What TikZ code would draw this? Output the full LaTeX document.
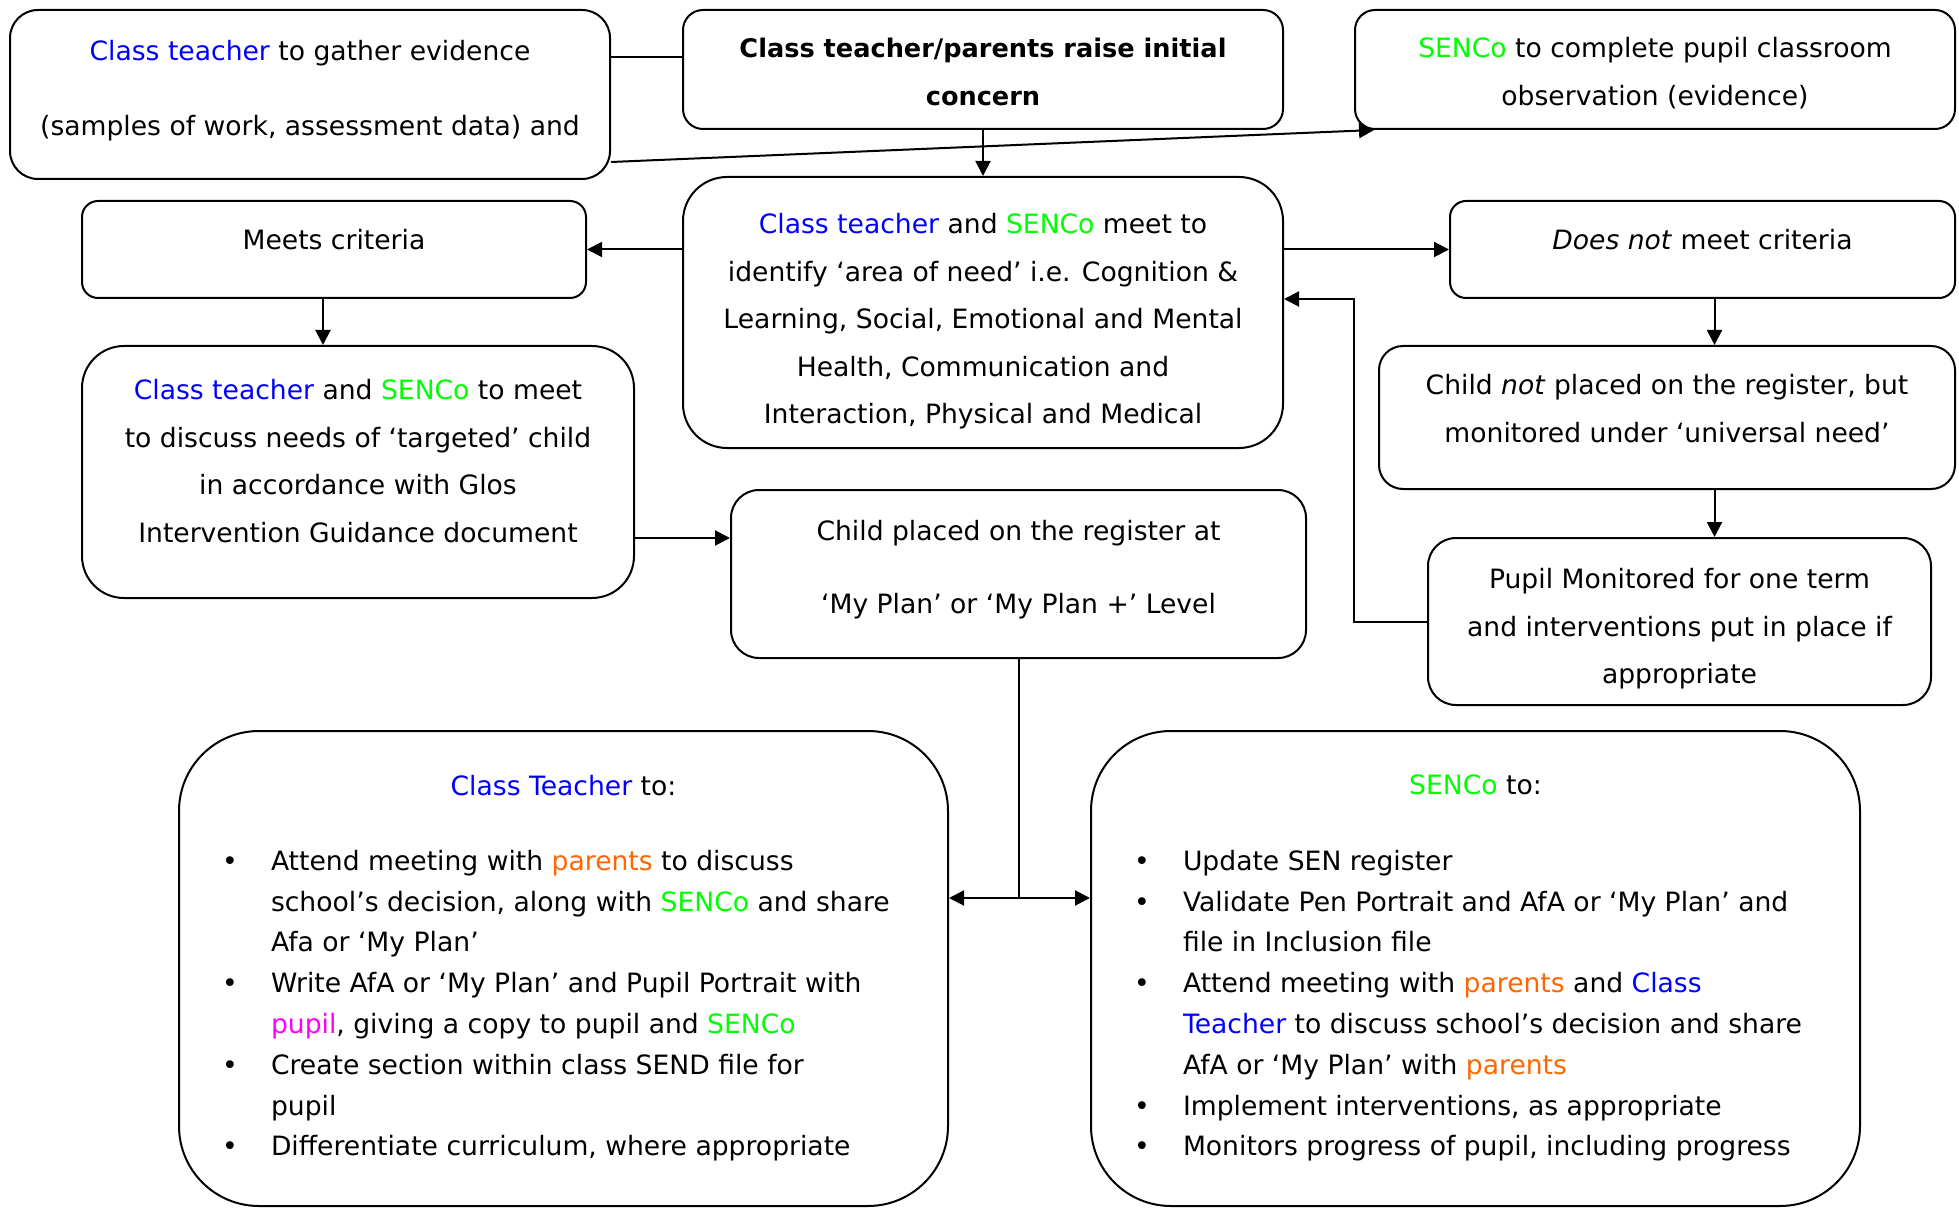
\documentclass[tikz,border=0pt]{standalone}
\usepackage{fontspec}
\setmainfont{DejaVu Sans}
\usetikzlibrary{positioning,arrows.meta}

\definecolor{teacherblue}{RGB}{0,0,255}
\definecolor{sencogreen}{RGB}{0,255,0}
\definecolor{parentorange}{RGB}{255,102,0}
\definecolor{pupilpink}{RGB}{255,0,255}

\begin{document}
\begin{tikzpicture}[
            x=0.5pt, y=-0.5pt,
            line width=1pt,
            >={Triangle[length=7.5pt,width=7.5pt]},
            box/.style={draw, rounded corners=#1, align=center, inner sep=0pt,
                font=\fontsize{13.3}{23.75}\selectfont},
            box/.default=12pt,
            listtext/.style={inner sep=0pt, font=\fontsize{13.3}{20.4}\selectfont}
        ]
            \useasboundingbox (0,0) rectangle (1959,1208);

            % top row
            \node[box=14pt, minimum width=300pt, minimum height=84.5pt] (evidence) at (310,94.5)
                {\textcolor{teacherblue}{Class teacher} to gather evidence\\[13.75pt](samples of work, assessment data) and\rule[-6.9pt]{0pt}{0pt}};
            \node[box=10pt, minimum width=300pt, minimum height=59.5pt,
                font=\fontsize{12.8}{23.75}\selectfont\bfseries] (concern) at (983,69.5)
                {\rule{0pt}{12.3pt}Class teacher/parents raise initial\\concern};
            \node[box=10pt, minimum width=300pt, minimum height=59.5pt] (observe) at (1655,69.5)
                {\rule{0pt}{13.9pt}\textcolor{sencogreen}{SENCo} to complete pupil classroom\\observation (evidence)};

            % middle
            \node[box=22pt, minimum width=300pt, minimum height=135.5pt] (need) at (983,312.5)
                {\rule{0pt}{18.9pt}\textcolor{teacherblue}{Class teacher} and \textcolor{sencogreen}{SENCo} meet to\\identify ‘area of need’ i.e. Cognition \&\\Learning, Social, Emotional and Mental\\Health, Communication and\\Interaction, Physical and Medical};
            \node[box=8pt, minimum width=252pt, minimum height=48.5pt] (meets) at (334,249.5)
                {Meets criteria\rule[-10pt]{0pt}{0pt}};
            \node[box=8pt, minimum width=252.5pt, minimum height=48.5pt] (notmeets) at (1702.5,249.5)
                {\textit{Does not} meet criteria\rule[-10pt]{0pt}{0pt}};
            \node[box=21pt, minimum width=276pt, minimum height=126pt] (targeted) at (358,472)
                {\textcolor{teacherblue}{Class teacher} and \textcolor{sencogreen}{SENCo} to meet\\to discuss needs of ‘targeted’ child\\in accordance with Glos\\Intervention Guidance document\rule[-11pt]{0pt}{0pt}};
            \node[box=12pt, minimum width=288pt, minimum height=71.5pt] (universal) at (1667,417.5)
                {Child \textit{not} placed on the register, but\\monitored under ‘universal need’\rule[-9pt]{0pt}{0pt}};
            \node[box=14pt, minimum width=251.5pt, minimum height=83.5pt] (monitor) at (1679.5,621.5)
                {\rule{0pt}{17.6pt}Pupil Monitored for one term\\and interventions put in place if\\appropriate};
            \node[box=14pt, minimum width=287.5pt, minimum height=84pt] (register) at (1018.5,574)
                {Child placed on the register at\\[12.75pt]‘My Plan’ or ‘My Plan +’ Level\rule[-6.9pt]{0pt}{0pt}};

            % bottom boxes
            \node[box=40pt, minimum width=384.5pt, minimum height=237.5pt] (teacherbox) at (563.5,968.5) {};
            \node[box=40pt, minimum width=384.5pt, minimum height=237.5pt] (sencobox) at (1475.5,968.5) {};

            \node[listtext, below=22pt of teacherbox.north] (teacherhead) {\textcolor{teacherblue}{Class Teacher} to:};
            \node[listtext, below right=55.4pt and 21.5pt of teacherbox.north west] (teacherlist) {%
                \begin{tabular}{@{}p{24.5pt}@{}l@{}}
                    \textbullet & Attend meeting with \textcolor{parentorange}{parents} to discuss\\
                    & school’s decision, along with \textcolor{sencogreen}{SENCo} and share\\
                    & Afa or ‘My Plan’\\
                    \textbullet & Write AfA or ‘My Plan’ and Pupil Portrait with\\
                    & \textcolor{pupilpink}{pupil}, giving a copy to pupil and \textcolor{sencogreen}{SENCo}\\
                    \textbullet & Create section within class SEND file for\\
                    & pupil\\
                    \textbullet & Differentiate curriculum, where appropriate
                \end{tabular}};

            \node[listtext, below=22pt of sencobox.north] (sencohead) {\textcolor{sencogreen}{SENCo} to:};
            \node[listtext, below right=55.4pt and 21.5pt of sencobox.north west] (sencolist) {%
                \begin{tabular}{@{}p{24.5pt}@{}l@{}}
                    \textbullet & Update SEN register\\
                    \textbullet & Validate Pen Portrait and AfA or ‘My Plan’ and\\
                    & file in Inclusion file\\
                    \textbullet & Attend meeting with \textcolor{parentorange}{parents} and \textcolor{teacherblue}{Class}\\
                    & \textcolor{teacherblue}{Teacher} to discuss school’s decision and share\\
                    & AfA or ‘My Plan’ with \textcolor{parentorange}{parents}\\
                    \textbullet & Implement interventions, as appropriate\\
                    \textbullet & Monitors progress of pupil, including progress
                \end{tabular}};

            % connectors
            \draw (evidence.east |- 0,57) -- (concern.west |- 0,57);
            \draw[->] (evidence.east |- 0,162) -- ([xshift=10pt]observe.south west);
            \draw[->] (concern.south) -- (need.north);
            \draw[->] (need.west |- meets.east) -- (meets.east);
            \draw[->] (need.east |- notmeets.west) -- (notmeets.west);

            \coordinate (meetsout) at ([xshift=-5.5pt]meets.south);
            \draw[->] (meetsout) -- (meetsout |- targeted.north);
            \coordinate (notout) at ([xshift=6pt]notmeets.south);
            \draw[->] (notout) -- (notout |- universal.north);
            \draw[->] (notout |- universal.south) -- (notout |- monitor.north);
            \draw[->] (monitor.west) -| (observe.west |- notmeets.south) -- (need.east |- notmeets.south);

            \draw[->] (targeted.east |- 0,538) -- (register.west |- 0,538);
            \coordinate (split) at (register.south |- 0,898);
            \draw (register.south) -- (split);
            \draw[->] (split) -- (teacherbox.east |- split);
            \draw[->] (split) -- (sencobox.west |- split);
        \end{tikzpicture}
\end{document}
